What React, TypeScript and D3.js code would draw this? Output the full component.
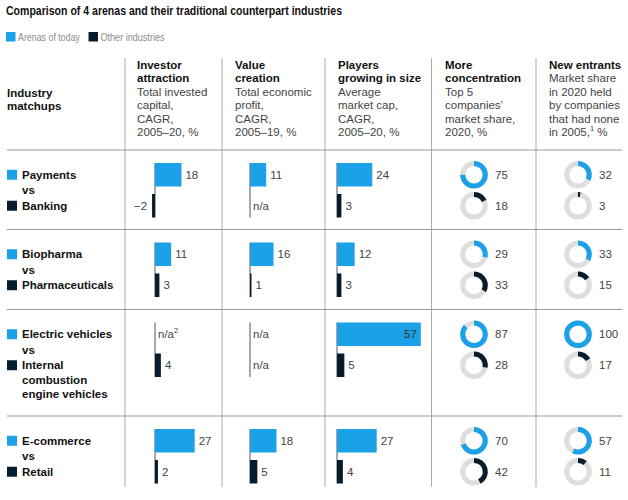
import React from "react";
import * as d3 from "d3";

const arenas = ["Payments", "Biopharma", "Electric vehicles", "E-commerce"];
const others = [["Banking"], ["Pharmaceuticals"], ["Internal", "combustion", "engine vehicles"], ["Retail"]];

const investorArena: (number | null)[] = [18, 11, null, 27];
const investorOther: (number | null)[] = [-2, 3, 4, 2];
const valueArena: (number | null)[] = [11, 16, null, 18];
const valueOther: (number | null)[] = [null, 1, null, 5];
const playersArena: (number | null)[] = [24, 12, 57, 27];
const playersOther: (number | null)[] = [3, 3, 5, 4];
const concArena = [75, 29, 87, 70];
const concOther = [18, 33, 28, 42];
const newArena = [32, 33, 100, 57];
const newOther = [3, 15, 17, 11];

const headers = [
  { bold: ["Investor", "attraction"], reg: ["Total invested", "capital,", "CAGR,", "2005–20, %"] },
  { bold: ["Value", "creation"], reg: ["Total economic", "profit,", "CAGR,", "2005–19, %"] },
  { bold: ["Players", "growing in size"], reg: ["Average", "market cap,", "CAGR,", "2005–20, %"] },
  { bold: ["More", "concentration"], reg: ["Top 5", "companies’", "market share,", "2020, %"] },
  { bold: ["New entrants"], reg: ["Market share", "in 2020 held", "by companies", "that had none", "in 2005,"] },
];

const BLUE = "#1aa1e8";
const DARK = "#071d2d";
const GREY = "#dedede";
const FONT = "'Liberation Sans', Arial, Helvetica, sans-serif";

const rowTops = [150, 229.5, 309.5, 416];
const tableBottom = 487;
const colLines = [125, 222, 325, 431.5, 536];
const colText = [137, 235, 338, 445, 549];
const barAxis = [155, 250, 337];
const donutX = [474, 578];

const x = d3.scaleLinear().domain([0, 60]).range([0, 88.2]);
const arcGen = d3.arc<any>().innerRadius(8.7).outerRadius(13.8);

function BarCell({ ax, top, a, o, sup }: { ax: number; top: number; a: number | null; o: number | null; sup?: boolean }) {
  const yA = top + 13;
  const yO = top + 44;
  const h = 23.5;
  const els: React.ReactNode[] = [];
  els.push(<line key="ax" x1={ax} x2={ax} y1={yA} y2={yO + h} stroke="#555" strokeWidth={1} />);
  const bar = (v: number | null, y: number, color: string, key: string, supText?: boolean) => {
    const cy = y + h / 2 + 4;
    if (v === null) {
      els.push(
        <text key={key + "t"} x={ax + 3} y={cy} fontSize={11.5} fill="#444">
          n/a{supText ? <tspan fontSize={7.5} dy={-5}>2</tspan> : null}
        </text>
      );
      return;
    }
    const w = Math.max(Math.abs(x(v) - x(0)), 1.5);
    const bx = v >= 0 ? ax : ax - w;
    els.push(<rect key={key} x={bx} y={y} width={w} height={h} fill={color} />);
    if (v < 0) {
      els.push(<text key={key + "t"} x={bx - 5} y={cy} fontSize={11.5} fill="#444" textAnchor="end">{"−" + Math.abs(v)}</text>);
    } else if (v > 50) {
      els.push(<text key={key + "t"} x={ax + w - 4} y={cy} fontSize={11.5} fill="#333" textAnchor="end">{v}</text>);
    } else {
      els.push(<text key={key + "t"} x={ax + w + 4} y={cy} fontSize={11.5} fill="#444">{v}</text>);
    }
  };
  bar(a, yA, BLUE, "a", sup);
  bar(o, yO, DARK, "o");
  return <g>{els}</g>;
}

function Donut({ cx, cy, v, color }: { cx: number; cy: number; v: number; color: string }) {
  const end = (v / 100) * 2 * Math.PI;
  return (
    <g transform={`translate(${cx},${cy})`}>
      <path d={arcGen({ startAngle: 0, endAngle: 2 * Math.PI }) || ""} fill={GREY} />
      <path d={arcGen({ startAngle: 0, endAngle: Math.max(end, 0.05) }) || ""} fill={color} />
      <text x={21} y={4} fontSize={11.5} fill="#444">{v}</text>
    </g>
  );
}

export default function App() {
  const bars = [
    [investorArena, investorOther],
    [valueArena, valueOther],
    [playersArena, playersOther],
  ];
  const donuts = [
    [concArena, concOther],
    [newArena, newOther],
  ];
  const baseY = 68.5;
  const lh = 13.5;
  return (
    <svg width={628} height={500} style={{ position: "absolute", left: 0, top: 0, fontFamily: FONT }}>
      <rect width={628} height={500} fill="#fff" />
      <text x={6} y={14.5} fontSize={12.6} fontWeight="bold" fill="#111" textLength={336} lengthAdjust="spacingAndGlyphs">
        Comparison of 4 arenas and their traditional counterpart industries
      </text>
      <rect x={6} y={32} width={9.5} height={9.5} fill={BLUE} />
      <text x={18} y={40.5} fontSize={10.8} fill="#8c8c8c" textLength={62} lengthAdjust="spacingAndGlyphs">Arenas of today</text>
      <rect x={88.5} y={32} width={9.5} height={9.5} fill={DARK} />
      <text x={100.5} y={40.5} fontSize={10.8} fill="#8c8c8c" textLength={64} lengthAdjust="spacingAndGlyphs">Other industries</text>

      <text x={7} y={96.5} fontSize={11.5} fontWeight="bold" fill="#111">Industry</text>
      <text x={7} y={109.5} fontSize={11.5} fontWeight="bold" fill="#111">matchups</text>

      {headers.map((hd, i) => (
        <g key={i}>
          {hd.bold.map((t, j) => (
            <text key={"b" + j} x={colText[i]} y={baseY + j * lh} fontSize={11.5} fontWeight="bold" fill="#111">{t}</text>
          ))}
          {hd.reg.map((t, j) => (
            <text key={"r" + j} x={colText[i]} y={baseY + (hd.bold.length + j) * lh} fontSize={11.5} fill="#444">
              {t}
              {i === 4 && j === hd.reg.length - 1 ? (
                <>
                  <tspan fontSize={7.5} dy={-5}>1</tspan>
                  <tspan dy={5}> %</tspan>
                </>
              ) : null}
            </text>
          ))}
        </g>
      ))}

      {colLines.map((cx, i) => (
        <line key={i} x1={cx} x2={cx} y1={58} y2={tableBottom} stroke="#aaa" strokeWidth={1} />
      ))}
      {rowTops.map((y, i) => (
        <line key={i} x1={7} x2={622} y1={y} y2={y} stroke="#999" strokeWidth={1} />
      ))}

      {arenas.map((name, r) => {
        const top = rowTops[r];
        const cA = top + 13 + 23.5 / 2;
        const cO = top + 44 + 23.5 / 2;
        return (
          <g key={r}>
            <rect x={7} y={cA - 5} width={10} height={10} fill={BLUE} />
            <text x={22} y={cA + 4} fontSize={11.5} fontWeight="bold" fill="#111">{name}</text>
            <text x={22} y={(cA + cO) / 2 + 4} fontSize={11.5} fontWeight="bold" fill="#111">vs</text>
            <rect x={7} y={cO - 5} width={10} height={10} fill={DARK} />
            {others[r].map((t, j) => (
              <text key={j} x={22} y={cO + 4 + j * 14.5} fontSize={11.5} fontWeight="bold" fill="#111">{t}</text>
            ))}
            {bars.map((b, c) => (
              <BarCell key={c} ax={barAxis[c]} top={top} a={b[0][r]} o={b[1][r]} sup={c === 0 && r === 2} />
            ))}
            {donuts.map((d, c) => (
              <g key={"d" + c}>
                <Donut cx={donutX[c]} cy={cA} v={d[0][r]} color={BLUE} />
                <Donut cx={donutX[c]} cy={cO} v={d[1][r]} color={DARK} />
              </g>
            ))}
          </g>
        );
      })}
    </svg>
  );
}
